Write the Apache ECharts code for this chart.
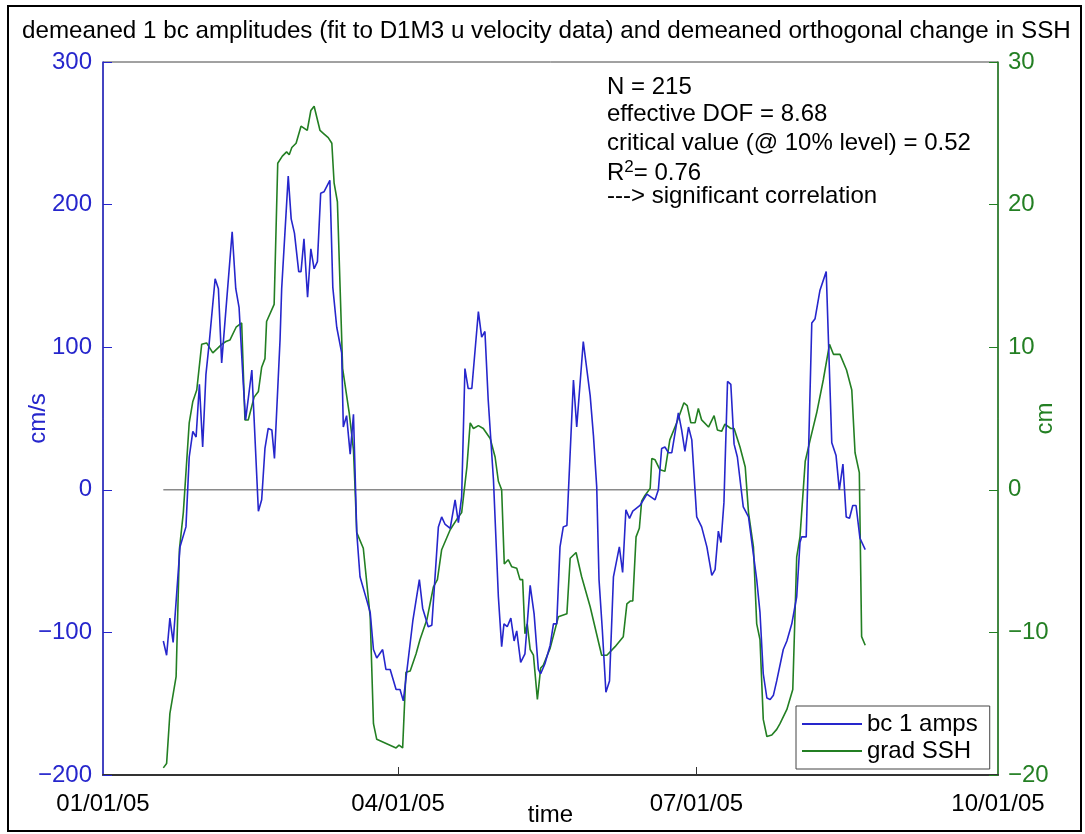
<!DOCTYPE html>
<html>
<head>
<meta charset="utf-8">
<script src="https://cdn.jsdelivr.net/npm/echarts@6/dist/echarts.min.js"></script>
<style>html,body{margin:0;padding:0;background:#fff}#c{width:1085px;height:834px}</style>
</head>
<body>
<div id="c"></div>
<script>
// day offsets since 01/01/05 and values
var bcDays = [18.4,19.4,20.4,21.4,23.5,25.3,26.3,27.4,28.4,29.4,30.4,31.4,32.4,34.2,35.2,36.2,39.4,40.5,41.5,42.8,43.5,45.4,47.4,48.4,49.4,50.4,51.5,52.3,54.0,54.5,56.5,57.4,58.4,59.7,60.4,61.3,62.4,63.4,64.4,65.4,66.4,67.4,69.2,70.1,71.3,72.8,73.3,74.3,75.4,76.4,77.4,78.4,80.4,81.5,82.5,83.5,85.3,86.3,87.6,89.4,90.6,91.6,94.5,96.5,97.5,99.2,100.3,102.3,103.3,104.3,105.9,107.4,108.4,109.4,110.4,111.4,112.5,114.5,115.5,116.5,117.5,119.1,120.6,121.6,122.3,123.3,124.4,125.4,126.2,127.4,128.7,130.3,131.5,132.8,133.5,134.8,136.4,137.4,138.4,139.4,140.4,141.5,143.5,144.5,146.5,148.6,149.6,150.6,151.3,152.3,153.4,154.5,155.7,157.5,158.5,159.5,160.6,161.6,163.8,165.9,168.4,169.4,170.4,171.4,172.5,173.5,175.5,176.5,177.5,178.6,179.6,181.1,182.6,184.2,185.7,186.7,187.7,188.5,189.4,190.5,191.5,192.5,193.5,195.3,196.9,199.4,200.4,201.4,202.5,203.5,204.5,205.5,207.5,208.6,210.1,211.6,212.6,213.1,214.5,215.2,216.2,217.2,218.7,220.6,222.3,223.6,224.6,225.7,226.7,227.7,228.7,229.7,230.9,232.5];
var bcAmps = [-106,-116,-90,-107,-40,-26,23,41,37,74,30,81,103,148,141,89,181,141,128,74,49,84,-15,-7,29,43,42,22,105,141,220,190,180,153,153,176,135,169,155,160,208,209,217,142,114,96,44,52,25,53,-30,-61,-77,-86,-112,-118,-112,-126,-126,-140,-140,-148,-92,-63,-83,-96,-95,-26,-19,-24,-27,-7,-23,-5,85,71,71,125,107,111,63,7,-75,-110,-94,-96,-90,-106,-99,-121,-115,-67,-87,-126,-129,-122,-109,-94,-94,-40,-26,-25,77,44,104,66,38,2,-63,-98,-142,-134,-61,-40,-58,-14,-20,-15,-11,-3,-7,0,29,30,26,26,54,42,27,44,35,-19,-26,-40,-60,-56,-29,-37,-9,76,74,32,23,-12,-19,-63,-86,-129,-146,-147,-144,-134,-112,-106,-94,-75,-37,-33,-33,26,117,120,140,153,33,24,0,18,-19,-20,-11,-11,-34,-42];
var sshDays = [18.4,19.4,20.4,22.3,23.3,24.5,26.3,27.4,28.6,30.1,31.6,33.5,36.2,37.5,38.7,40.6,42.3,43.3,44.3,46.1,47.4,48.4,49.4,49.9,52.2,53.3,54.7,56.0,56.8,57.6,58.9,60.4,62.3,63.4,64.4,66.2,67.2,68.7,69.8,70.5,71.5,73.1,75.1,76.4,76.9,77.4,79.4,81.5,82.5,83.5,89.4,90.3,91.4,92.4,93.7,95.5,96.7,98.8,100.8,102.0,103.3,105.9,108.4,109.4,111.0,112.0,113.0,114.5,116.0,118.1,119.6,120.6,121.6,122.4,123.6,124.7,126.2,127.2,128.0,128.7,129.4,130.3,131.3,132.5,133.5,134.3,136.4,138.9,141.5,142.5,144.3,146.0,148.6,152.1,153.7,156.2,158.7,159.8,160.8,161.6,162.6,163.6,164.3,165.3,166.9,167.4,168.4,169.9,171.4,172.9,175.0,177.2,178.2,179.3,180.6,181.6,182.6,184.7,186.4,187.4,188.7,189.7,191.5,192.5,194.3,195.9,196.9,198.4,199.4,200.4,201.4,202.5,204.0,205.5,206.5,208.6,210.4,211.6,212.6,214.2,215.7,217.7,219.7,221.6,222.8,224.8,226.8,228.4,229.4,230.7,231.4,232.5];
var gradSSH = [-19.5,-19.2,-15.7,-13.1,-4.2,-1.6,4.7,6.2,7.0,10.2,10.3,9.6,10.2,10.4,10.5,11.4,11.7,4.9,4.9,6.5,6.9,8.6,9.2,11.8,13.0,22.9,23.4,23.7,23.5,24.0,24.3,25.5,25.2,26.6,26.9,25.2,25.0,24.7,24.3,21.5,20.2,8.5,5.4,2.8,0,-3.0,-4.1,-8.9,-16.4,-17.5,-18.1,-17.9,-18.1,-12.8,-12.7,-11.5,-10.5,-9.1,-6.8,-6.3,-4.2,-2.8,-1.9,-1.6,1.6,4.7,4.3,4.5,4.3,3.6,2.3,0.6,0,-5.2,-4.9,-5.4,-5.5,-6.3,-6.3,-10.1,-9.4,-11.2,-11.6,-14.7,-12.5,-12.3,-11.1,-8.9,-8.7,-4.8,-4.4,-6.1,-8.2,-11.6,-11.6,-11.0,-10.3,-8.0,-7.8,-7.8,-3.3,-2.7,-0.8,-0.4,0.1,2.2,2.1,1.4,1.3,3.5,4.7,6.1,5.9,4.7,4.7,5.7,4.9,4.4,5.2,4.2,4.1,4.6,4.3,4.3,3.0,1.6,-1.6,-4.0,-9.4,-10.5,-16.1,-17.3,-17.2,-16.8,-16.4,-15.4,-14.0,-4.7,-3.3,2.0,3.5,5.4,7.7,10.2,9.5,9.5,8.4,7.0,2.6,1.2,-10.3,-10.9];
var zeroDays = [18.4, 232.5];
var zeroVals = [0, 0];
var xTickDays = [0, 90, 181, 273];
var xTickLabels = ['01/01/05', '04/01/05', '07/01/05', '10/01/05'];
var statLines = ['N = 215','effective DOF = 8.68','critical value (@ 10% level) = 0.52','R{sup|2}= 0.76','---> significant correlation'];

function pairs(xs, ys){ return xs.map(function(d,i){ return [d, ys[i]]; }); }
var FONT = 'Liberation Sans, Arial, Helvetica, sans-serif';
var BLUE = '#2626cc', GREEN = '#237f23';
var FS = 24;

var chart = echarts.init(document.getElementById('c'), null, {renderer:'canvas'});
var graphics = [
  {type:'rect', shape:{x:8,y:6,width:1073,height:825}, style:{fill:'none', stroke:'#000', lineWidth:2}, z:100}
];
var statTops = [75, 102, 131, 159, 184];
statLines.forEach(function(s,i){
  graphics.push({type:'text', left:607, top:statTops[i], z:100,
    style:{text:s, font:FS+'px '+FONT, fill:'#000',
      rich:{sup:{fontSize:17, verticalAlign:'bottom', padding:[0,0,11,0], fontFamily:FONT}}}});
});
chart.setOption({
  animation:false,
  backgroundColor:'#fff',
  textStyle:{fontFamily:FONT},
  title:{text:'demeaned 1 bc amplitudes (fit to D1M3 u velocity data) and demeaned orthogonal change in SSH',
    left:17, top:14, textStyle:{fontSize:24.2, fontWeight:'normal', color:'#000', fontFamily:FONT}},
  grid:{left:103, right:87, top:62, bottom:59, show:true, borderColor:'#444', borderWidth:1, outerBoundsMode:'none', containLabel:false},
  legend:{orient:'vertical', left:796, top:706, itemWidth:60, itemHeight:2, icon:'rect', itemGap:3,
    borderColor:'#444', borderWidth:1, padding:[6,12,6,6], backgroundColor:'#fff',
    textStyle:{fontSize:FS, color:'#000', fontFamily:FONT},
    data:['bc 1 amps','grad SSH']},
  xAxis:{type:'value', min:xTickDays[0], max:xTickDays[3],
    name:'time', nameLocation:'middle', nameGap:28, nameMoveOverlap:false, nameTextStyle:{fontSize:FS, color:'#000'},
    axisLine:{onZero:false, lineStyle:{color:'#333', width:2}},
    axisTick:{show:true, inside:true, length:8, lineStyle:{color:'#333'}, customValues:[xTickDays[1],xTickDays[2]]},
    axisLabel:{customValues:xTickDays, fontSize:FS, color:'#000', margin:17, hideOverlap:false,
      formatter:function(v){ var i = xTickDays.indexOf(v); return i>=0 ? xTickLabels[i] : ''; }},
    splitLine:{show:false}},
  yAxis:[
    {type:'value', min:-200, max:300, interval:100, position:'left',
      name:'cm/s', nameLocation:'middle', nameGap:53, nameMoveOverlap:false, nameRotate:90, nameTextStyle:{fontSize:FS, color:BLUE},
      axisLine:{show:true, lineStyle:{color:BLUE, width:1.5}},
      axisTick:{show:true, inside:true, length:9, lineStyle:{color:BLUE}},
      axisLabel:{fontSize:FS, color:BLUE, margin:11, formatter:function(v){ return String(v).replace('-','\u2212'); }},
      splitLine:{show:false}},
    {type:'value', min:-20, max:30, interval:10, position:'right',
      name:'cm', nameLocation:'middle', nameGap:35, nameMoveOverlap:false, nameRotate:90, nameTextStyle:{fontSize:FS, color:GREEN},
      axisLine:{show:true, lineStyle:{color:GREEN, width:1.5}},
      axisTick:{show:true, inside:true, length:9, lineStyle:{color:GREEN}},
      axisLabel:{fontSize:FS, color:GREEN, margin:10, formatter:function(v){ return String(v).replace('-','\u2212'); }},
      splitLine:{show:false}}
  ],
  graphic:graphics,
  series:[
    {name:'zero', type:'line', yAxisIndex:0, data:pairs(zeroDays, zeroVals), symbol:'none', silent:true,
      lineStyle:{color:'#8a8a8a', width:1.5}, z:1},
    {name:'bc 1 amps', type:'line', yAxisIndex:0, data:pairs(bcDays, bcAmps), symbol:'none',
      itemStyle:{color:BLUE}, lineStyle:{color:BLUE, width:1.6}, z:3},
    {name:'grad SSH', type:'line', yAxisIndex:1, data:pairs(sshDays, gradSSH), symbol:'none',
      itemStyle:{color:GREEN}, lineStyle:{color:GREEN, width:1.6}, z:2}
  ]
});
</script>
</body>
</html>
